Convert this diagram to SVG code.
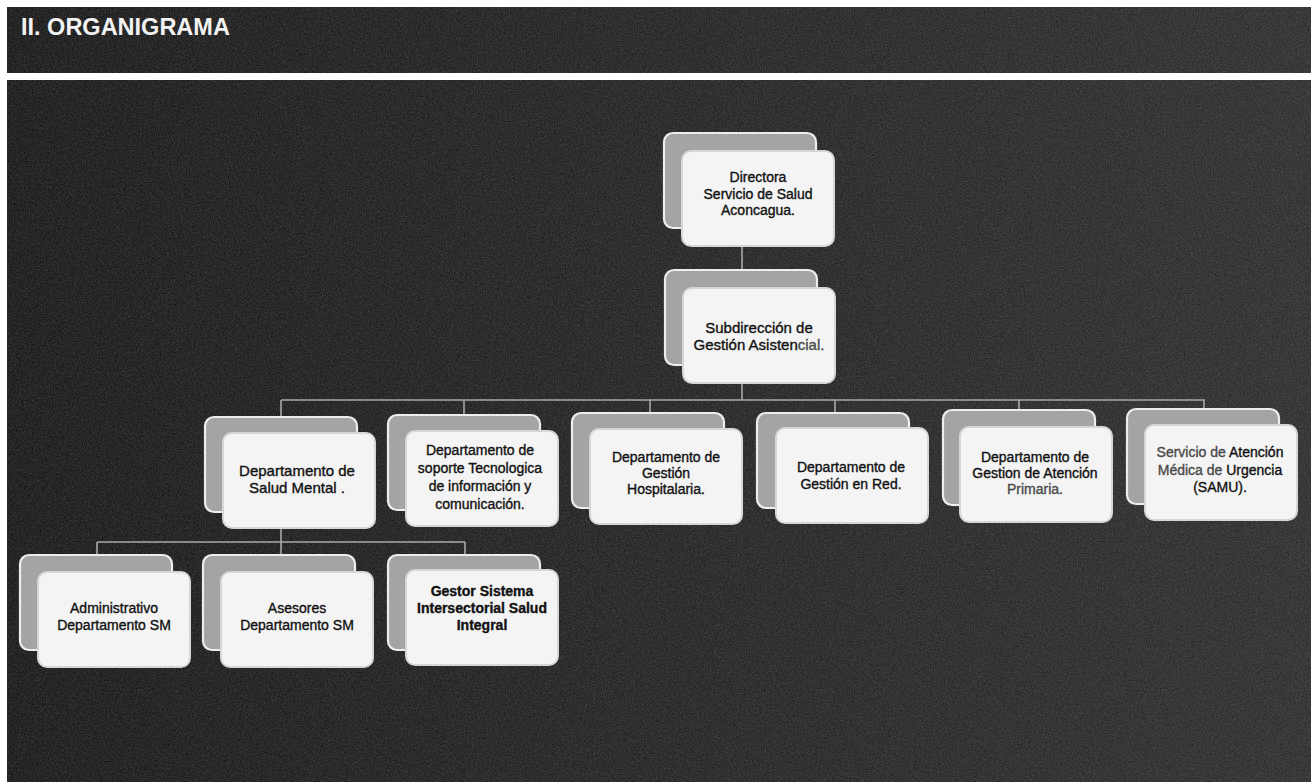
<svg xmlns="http://www.w3.org/2000/svg" width="1311" height="782" viewBox="0 0 1311 782">
<defs>
  <linearGradient id="bg" x1="0" x2="1" y1="0" y2="0">
    <stop offset="0" stop-color="#141414"/>
    <stop offset="1" stop-color="#2a2a2a"/>
  </linearGradient>
  <filter id="noise" x="0" y="0" width="100%" height="100%">
    <feTurbulence type="fractalNoise" baseFrequency="0.75" numOctaves="2" seed="4"/>
    <feColorMatrix type="matrix" values="0 0 0 0 0.6  0 0 0 0 0.6  0 0 0 0 0.6  0.35 0 0 0 -0.08"/>
  </filter>
  <style>
    .back{fill:#a4a4a4;stroke:#ededed;stroke-width:2.2}
    .front{fill:#f4f4f4;stroke:#d6d6d6;stroke-width:2}
    .t{font-family:"Liberation Sans",Arial,sans-serif;font-size:14px;fill:#111;stroke:#111;stroke-width:0.35;text-anchor:middle}
    .big{font-size:15px}
    .b{font-weight:bold}
    .g{fill:#4a4a4a;stroke:#4a4a4a}
    .conn{stroke:#a9a9a9;stroke-width:1.6;fill:none}
    .title{font-family:"Liberation Sans",Arial,sans-serif;font-weight:bold;font-size:23.5px;fill:#f2f2f2}
  </style>
</defs>

<rect x="0" y="0" width="1311" height="782" fill="#ffffff"/>
<rect x="7" y="7" width="1304" height="66" fill="url(#bg)"/>
<rect x="7" y="80" width="1304" height="702" fill="url(#bg)"/>
<rect x="7" y="7" width="1304" height="66" filter="url(#noise)"/>
<rect x="7" y="80" width="1304" height="702" filter="url(#noise)"/>
<text class="title" x="21" y="35">II. ORGANIGRAMA</text>

<g id="connectors">
  <path class="conn" d="M742,246 V270"/>
  <path class="conn" d="M742,384 V400"/>
  <path class="conn" d="M281,400 H1205"/>
  <path class="conn" d="M281,400 V417 M464,400 V415 M650,400 V413 M835,400 V413 M1019,400 V410 M1204,400 V409"/>
  <path class="conn" d="M281,528 V542 M97,542 H465 M97,542 V555 M281,542 V555 M465,542 V555"/>
</g>

<g id="directora">
  <rect class="back" x="664" y="133" width="152" height="95" rx="9"/>
  <rect class="front" x="682" y="151" width="152" height="95" rx="9"/>
  <text class="t" x="758" y="182">Directora</text>
  <text class="t" x="758" y="199">Servicio de Salud</text>
  <text class="t" x="758" y="215">Aconcagua.</text>
</g>

<g id="subdireccion">
  <rect class="back" x="665" y="270" width="152" height="95" rx="9"/>
  <rect class="front" x="683" y="288" width="152" height="95" rx="9"/>
  <text class="t big" x="759" y="333">Subdirección de</text>
  <text class="t big" x="759" y="350">Gestión Asisten<tspan class="g">cial.</tspan></text>
</g>

<g id="salud-mental">
  <rect class="back" x="205" y="417" width="152" height="95" rx="9"/>
  <rect class="front" x="223" y="433" width="152" height="95" rx="9"/>
  <text class="t big" x="297" y="476">Departamento de</text>
  <text class="t big" x="297" y="493">Salud Mental .</text>
</g>

<g id="soporte">
  <rect class="back" x="388" y="415" width="152" height="95" rx="9"/>
  <rect class="front" x="406" y="431" width="152" height="95" rx="9"/>
  <text class="t" x="480" y="455">Departamento de</text>
  <text class="t" x="480" y="473">soporte Tecnologica</text>
  <text class="t" x="480" y="491">de información y</text>
  <text class="t" x="480" y="509">comunicación.</text>
</g>

<g id="hospitalaria">
  <rect class="back" x="572" y="413" width="152" height="95" rx="9"/>
  <rect class="front" x="590" y="429" width="152" height="95" rx="9"/>
  <text class="t" x="666" y="462">Departamento de</text>
  <text class="t" x="666" y="478">Gestión</text>
  <text class="t" x="666" y="494">Hospitalaria.</text>
</g>

<g id="gestion-red">
  <rect class="back" x="757" y="413" width="152" height="95" rx="9"/>
  <rect class="front" x="776" y="428" width="152" height="95" rx="9"/>
  <text class="t" x="851" y="472">Departamento de</text>
  <text class="t" x="851" y="489">Gestión en Red.</text>
</g>

<g id="atencion-primaria">
  <rect class="back" x="943" y="410" width="152" height="95" rx="9"/>
  <rect class="front" x="960" y="427" width="152" height="95" rx="9"/>
  <text class="t" x="1035" y="462">Departamento de</text>
  <text class="t" x="1035" y="478">Gestion de Atención</text>
  <text class="t g" x="1035" y="494">Primaria.</text>
</g>

<g id="samu">
  <rect class="back" x="1127" y="409" width="152" height="95" rx="9"/>
  <rect class="front" x="1145" y="425" width="152" height="95" rx="9"/>
  <text class="t" x="1220" y="457"><tspan class="g">Servicio de</tspan> Atención</text>
  <text class="t" x="1220" y="475"><tspan class="g">Médica de</tspan> Urgencia</text>
  <text class="t" x="1220" y="492">(SAMU).</text>
</g>

<g id="administrativo">
  <rect class="back" x="20" y="555" width="152" height="95" rx="9"/>
  <rect class="front" x="38" y="572" width="152" height="95" rx="9"/>
  <text class="t" x="114" y="613">Administrativo</text>
  <text class="t" x="114" y="630">Departamento SM</text>
</g>

<g id="asesores">
  <rect class="back" x="203" y="555" width="152" height="95" rx="9"/>
  <rect class="front" x="221" y="572" width="152" height="95" rx="9"/>
  <text class="t" x="297" y="613">Asesores</text>
  <text class="t" x="297" y="630">Departamento SM</text>
</g>

<g id="gestor">
  <rect class="back" x="388" y="555" width="152" height="95" rx="9"/>
  <rect class="front" x="406" y="570" width="152" height="95" rx="9"/>
  <text class="t b" x="482" y="596">Gestor Sistema</text>
  <text class="t b" x="482" y="613">Intersectorial Salud</text>
  <text class="t b" x="482" y="630">Integral</text>
</g>
</svg>
